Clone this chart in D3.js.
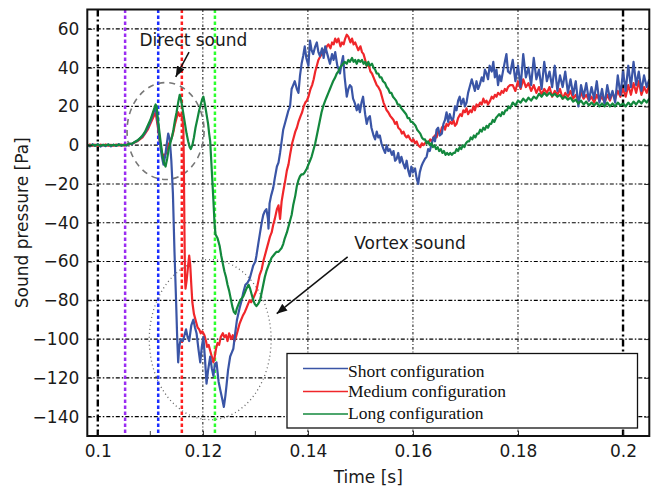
<!DOCTYPE html>
<html lang="en">
<head>
<meta charset="utf-8">
<title>sound pressure</title>
<script src="https://d3js.org/d3.v7.js"></script>
<style type="text/css">
	body { margin: 0; background: #ffffff; }
	.ax text { font-family: "DejaVu Sans", sans-serif; fill: #1a1a1a; }
</style>
</head>
<body>
<div id="chart"></div>
<script>
// x ticks / y ticks
const xTicks = [0.1, 0.12, 0.14, 0.16, 0.18, 0.2];
const xMinorTicks = [0.11, 0.13];
const yTicks = [-140, -120, -100, -80, -60, -40, -20, 0, 20, 40, 60];
const seriesNames = ["Short configuration", "Medium configuration", "Long configuration"];

// event markers (vertical lines), time in s
const blackMarks = [0.1, 0.2];
const colorMarks = [0.1052, 0.1115, 0.1160, 0.1223];

// [time s, pressure Pa]
const shortData = [
[0.0980,0.3],[0.0985,-0.6],[0.0990,0.5],[0.0995,-0.4],[0.1000,0.6],[0.1005,-0.7],[0.1010,0.2],[0.1015,-0.5],[0.1020,0.4],[0.1025,-0.6],[0.1030,0.3],[0.1035,-0.4],[0.1040,0.5],[0.1045,-0.3],[0.1050,0.2],[0.1055,-0.2],[0.1060,0.8],[0.1065,0.6],[0.1070,1.6],[0.1075,2.2],[0.1080,3.5],[0.1085,4.5],[0.1090,6.5],[0.1095,9],[0.1100,12],[0.1105,16],[0.1110,20],
[0.1114,12],[0.1118,2],[0.1122,-6],[0.1125,-10],[0.1128,-6],[0.1131,0],[0.1134,6],[0.1137,3],[0.1140,-8],[0.1143,-25],[0.1146,-55],[0.1149,-80],[0.1151,-98],[0.1153,-112],[0.1155,-104],[0.1158,-100],[0.1162,-101],[0.1166,-97],[0.1168,-95],[0.1171,-99],[0.1174,-101],[0.1178,-93],[0.1182,-90],[0.1185,-94],[0.1188,-97],[0.1192,-106],[0.1195,-112],[0.1198,-104],[0.1201,-99],[0.1204,-110],[0.1207,-123],[0.1210,-116],[0.1214,-109],[0.1217,-115],[0.1220,-119],[0.1223,-113],[0.1226,-112],[0.1230,-122],[0.1233,-126],[0.1237,-131],[0.1240,-135],[0.1243,-129],[0.1245,-124],[0.1248,-116],[0.1252,-109],[0.1255,-107],[0.1258,-105],[0.1262,-96],[0.1265,-90],[0.1270,-84],[0.1274,-80],[0.1277,-76],[0.1281,-72],[0.1285,-71],[0.1289,-69],[0.1293,-65],[0.1296,-62],[0.1300,-60],[0.1302,-57],[0.1306,-50],[0.1309,-45],[0.1312,-40],[0.1315,-36],[0.1318,-34],[0.1321,-33],[0.1324,-38],[0.1325,-43],[0.1327,-30],[0.1330,-26],[0.1334,-22],[0.1337,-17],[0.1341,-11],[0.1344,-9],[0.1347,-4],[0.1350,2],[0.1353,8],[0.1357,12],[0.1360,15],[0.1363,18],[0.1366,20],[0.1369,29],[0.1372,31],[0.1375,33],[0.1379,29],[0.1382,27],[0.1385,36],[0.1388,42],[0.1391,46],[0.1394,51],[0.1397,45],[0.1401,41],[0.1404,54],[0.1407,49],[0.1410,47],[0.1414,51],[0.1417,53],[0.1420,48],[0.1423,46],[0.1427,50],[0.1430,45],[0.1433,51],[0.1437,47],[0.1440,44],[0.1442,42],[0.1446,47],[0.1449,44],[0.1452,48],[0.1456,41],[0.1459,39],[0.1461,37],[0.1464,42],[0.1467,46],[0.1470,35],[0.1474,25],[0.1477,29],[0.1480,31],[0.1483,30],[0.1486,24],[0.1489,22],[0.1493,18],[0.1496,21],[0.1499,17],[0.1502,22],[0.1505,25],[0.1509,16],[0.1512,11],[0.1515,14],[0.1518,15],[0.1521,9],[0.1525,5],[0.1528,3],[0.1531,7],[0.1534,4],[0.1537,5],[0.1540,1],[0.1544,-2],[0.1547,-4],[0.1550,0],[0.1553,-3],[0.1556,-2],[0.1560,-5],[0.1563,-3],[0.1566,-8],[0.1569,-7],[0.1572,-4],[0.1575,-9],[0.1578,-6],[0.1581,-9],[0.1585,-12],[0.1588,-8],[0.1591,-13],[0.1594,-16],[0.1597,-11],[0.1600,-14],[0.1604,-12],[0.1607,-17],[0.1610,-20],[0.1613,-14],[0.1616,-11],[0.1619,-9],[0.1623,-7],[0.1626,-6],[0.1629,-2],[0.1632,-3],[0.1636,1],[0.1639,4],[0.1642,2],[0.1645,8],[0.1648,9],[0.1651,5],[0.1655,6],[0.1658,11],[0.1661,13],[0.1664,17],[0.1667,12],[0.1670,16],[0.1674,13],[0.1677,14],[0.1680,20],[0.1683,18],[0.1686,23],[0.1689,25],[0.1692,21],[0.1696,24],[0.1699,20],[0.1702,22],[0.1705,27],[0.1708,30],[0.1712,34],[0.1715,31],[0.1718,28],[0.1721,33],[0.1724,29],[0.1727,31],[0.1731,35],[0.1734,33],[0.1737,39],[0.1740,37],[0.1743,34],[0.1746,41],[0.1750,38],[0.1753,43],[0.1756,35],[0.1759,39],[0.1762,31],[0.1765,36],[0.1768,33],[0.1772,39],[0.1775,43],[0.1778,47],[0.1781,38],[0.1785,37],
[0.1790,44],[0.1795,33],[0.1800,41],[0.1805,30],[0.1810,47],[0.1815,35],[0.1820,40],[0.1825,31],[0.1830,45],[0.1835,34],[0.1840,39],[0.1845,29],[0.1850,43],[0.1855,33],[0.1860,38],[0.1865,30],[0.1870,41],[0.1875,28],[0.1880,36],[0.1885,30],[0.1890,38],[0.1895,27],[0.1900,34],[0.1905,26],[0.1910,33],[0.1915,20],[0.1920,31],[0.1925,25],[0.1930,32],[0.1935,23],[0.1940,30],[0.1945,24],[0.1950,33],[0.1955,22],[0.1960,29],[0.1965,21],[0.1970,31],[0.1975,24],[0.1980,28],[0.1985,22],[0.1990,36],[0.1995,26],[0.2000,38],[0.2005,28],[0.2010,41],[0.2015,30],[0.2020,43],[0.2025,31],[0.2030,38],[0.2035,28],[0.2040,36],[0.2045,30],[0.2050,34]
];

const mediumData = [
[0.0980,-0.2],[0.0985,0.4],[0.0990,-0.3],[0.0995,0.3],[0.1000,-0.4],[0.1005,0.3],[0.1010,-0.2],[0.1015,0.4],[0.1020,-0.3],[0.1025,0.2],[0.1030,-0.3],[0.1035,0.3],[0.1040,-0.2],[0.1045,0.3],[0.1050,-0.2],[0.1055,0.2],[0.1060,0.6],[0.1065,0.7],[0.1070,1.4],[0.1075,2],[0.1080,3],[0.1085,4],[0.1090,6],[0.1095,8],[0.1100,11],[0.1105,14],[0.1110,17],[0.1114,10],[0.1118,2],[0.1122,-4],[0.1126,-6],[0.1130,-4],[0.1134,0],[0.1138,2],[0.1141,4],[0.1144,7],[0.1147,11],[0.1150,14],[0.1153,17],[0.1156,15],[0.1159,16],[0.1161,14],[0.1163,8],[0.1164,-15],[0.1165,-45],[0.1166,-68],[0.1167,-74],[0.1169,-70],[0.1172,-62],[0.1174,-57],[0.1176,-62],[0.1178,-72],[0.1180,-81],[0.1183,-87],[0.1186,-90],[0.1190,-94],[0.1193,-95],[0.1196,-97],[0.1199,-96],[0.1203,-98],[0.1206,-101],[0.1208,-104],[0.1211,-103],[0.1214,-106],[0.1217,-109],[0.1220,-112],[0.1222,-110],[0.1225,-105],[0.1228,-102],[0.1231,-103],[0.1234,-99],[0.1238,-97],[0.1241,-99],[0.1244,-98],[0.1247,-101],[0.1250,-97],[0.1254,-100],[0.1257,-98],[0.1260,-101],[0.1263,-99],[0.1267,-95],[0.1270,-92],[0.1273,-90],[0.1276,-88],[0.1280,-86],[0.1283,-84],[0.1286,-82],[0.1289,-80],[0.1292,-81],[0.1296,-79],[0.1299,-77],[0.1302,-75],[0.1305,-71],[0.1308,-67],[0.1312,-64],[0.1315,-60],[0.1318,-57],[0.1321,-54],[0.1325,-50],[0.1328,-47],[0.1331,-45],[0.1334,-41],[0.1337,-38],[0.1341,-33],[0.1344,-31],[0.1347,-38],[0.1350,-29],[0.1353,-24],[0.1357,-18],[0.1360,-13],[0.1363,-10],[0.1366,-5],[0.1370,1],[0.1373,4],[0.1376,7],[0.1379,9],[0.1382,12],[0.1386,15],[0.1389,17],[0.1392,20],[0.1395,22],[0.1398,23],[0.1401,25],[0.1405,29],[0.1408,31],[0.1411,34],[0.1414,38],[0.1417,41],[0.1420,44],[0.1424,46],[0.1427,47],[0.1430,49],[0.1433,48],[0.1436,51],[0.1439,52],[0.1443,50],[0.1446,53],[0.1449,52],[0.1452,55],[0.1455,53],[0.1458,55],[0.1462,51],[0.1465,53],[0.1468,52],[0.1471,55],[0.1474,57],[0.1477,56],[0.1481,53],[0.1484,55],[0.1487,52],[0.1490,53],[0.1493,51],[0.1496,49],[0.1500,51],[0.1503,48],[0.1506,47],[0.1509,44],[0.1512,41],[0.1515,42],[0.1519,38],[0.1522,37],[0.1525,35],[0.1528,33],[0.1531,31],[0.1534,30],[0.1538,28],[0.1541,25],[0.1544,22],[0.1547,20],[0.1550,18],[0.1553,17],[0.1557,15],[0.1560,14],[0.1563,13],[0.1566,11],[0.1569,12],[0.1572,9],[0.1576,8],[0.1579,6],[0.1582,7],[0.1585,5],[0.1588,4],[0.1591,5],[0.1595,3],[0.1598,2],[0.1601,3],[0.1604,1],[0.1607,2],[0.1610,0],[0.1614,-1],[0.1617,1],[0.1620,0],[0.1623,1],[0.1626,2],[0.1629,1],[0.1633,3],[0.1636,2],[0.1639,4],[0.1642,5],[0.1645,4],[0.1648,7],[0.1652,6],[0.1655,9],[0.1658,10],[0.1661,8],[0.1664,11],[0.1667,10],[0.1671,12],[0.1674,11],[0.1677,13],[0.1680,10],[0.1683,11],[0.1686,14],[0.1690,16],[0.1693,15],[0.1696,18],[0.1699,17],[0.1702,19],[0.1705,16],[0.1709,18],[0.1712,17],[0.1715,20],[0.1718,18],[0.1721,21],[0.1724,20],[0.1728,22],[0.1731,21],[0.1734,24],[0.1737,22],[0.1740,23],[0.1743,21],[0.1747,23],[0.1750,25],[0.1753,24],[0.1756,26],[0.1759,25],[0.1762,27],[0.1766,26],[0.1769,28],[0.1772,27],[0.1775,29],[0.1778,28],[0.1781,30],[0.1785,31],
[0.1790,31],[0.1795,28],[0.1800,33],[0.1805,29],[0.1810,34],[0.1815,30],[0.1820,32],[0.1825,28],[0.1830,31],[0.1835,27],[0.1840,30],[0.1845,26],[0.1850,29],[0.1855,27],[0.1860,30],[0.1865,25],[0.1870,28],[0.1875,26],[0.1880,29],[0.1885,24],[0.1890,27],[0.1895,25],[0.1900,28],[0.1905,24],[0.1910,26],[0.1915,23],[0.1920,27],[0.1925,24],[0.1930,26],[0.1935,23],[0.1940,25],[0.1945,22],[0.1950,26],[0.1955,23],[0.1960,25],[0.1965,22],[0.1970,26],[0.1975,23],[0.1980,27],[0.1985,24],[0.1990,28],[0.1995,25],[0.2000,29],[0.2005,25],[0.2010,31],[0.2015,26],[0.2020,32],[0.2025,27],[0.2030,33],[0.2035,26],[0.2040,30],[0.2045,27],[0.2050,31]
];

const longData = [
[0.0980,0.2],[0.0985,-0.3],[0.0990,0.2],[0.0995,-0.2],[0.1000,0.3],[0.1005,-0.3],[0.1010,0.2],[0.1015,-0.2],[0.1020,0.3],[0.1025,-0.2],[0.1030,0.2],[0.1035,-0.2],[0.1040,0.3],[0.1045,-0.1],[0.1050,0.2],[0.1055,0.1],[0.1060,0.7],[0.1065,0.8],[0.1070,1.6],[0.1075,2.4],[0.1080,3.5],[0.1085,5],[0.1090,7],[0.1095,10],[0.1100,13],[0.1105,17],[0.1110,21],[0.1112,20],[0.1115,12],[0.1119,3],[0.1123,-5],[0.1126,-9],[0.1129,-11],[0.1132,-7],[0.1135,-2],[0.1138,1],[0.1141,4],[0.1144,8],[0.1147,13],[0.1150,17],[0.1153,22],[0.1156,26],[0.1158,24],[0.1160,21],[0.1163,16],[0.1166,11],[0.1169,6],[0.1172,2],[0.1175,-1],[0.1177,-2],[0.1180,0],[0.1183,4],[0.1186,9],[0.1190,14],[0.1193,18],[0.1196,21],[0.1199,24],[0.1201,25],[0.1204,21],[0.1207,16],[0.1210,11],[0.1212,6],[0.1214,2],[0.1216,-8],[0.1218,-18],[0.1220,-28],[0.1222,-39],[0.1224,-46],[0.1226,-47],[0.1228,-48],[0.1230,-50],[0.1232,-52],[0.1235,-57],[0.1238,-61],[0.1241,-65],[0.1244,-68],[0.1247,-72],[0.1250,-75],[0.1253,-79],[0.1256,-83],[0.1259,-86],[0.1262,-87],[0.1265,-84],[0.1268,-82],[0.1271,-80],[0.1274,-79],[0.1277,-78],[0.1280,-76],[0.1283,-74],[0.1287,-72],[0.1290,-74],[0.1293,-77],[0.1296,-80],[0.1299,-82],[0.1302,-83],[0.1305,-82],[0.1309,-80],[0.1312,-76],[0.1315,-72],[0.1318,-68],[0.1321,-65],[0.1325,-62],[0.1328,-60],[0.1331,-58],[0.1334,-57],[0.1337,-56],[0.1340,-55],[0.1344,-55],[0.1347,-54],[0.1350,-53],[0.1353,-51],[0.1356,-48],[0.1360,-45],[0.1363,-42],[0.1366,-39],[0.1369,-36],[0.1372,-31],[0.1376,-26],[0.1379,-21],[0.1382,-18],[0.1385,-16],[0.1388,-15],[0.1391,-15],[0.1394,-14],[0.1398,-12],[0.1401,-10],[0.1404,-8],[0.1407,-6],[0.1410,-3],[0.1414,1],[0.1417,5],[0.1420,9],[0.1423,13],[0.1426,17],[0.1429,20],[0.1433,23],[0.1436,25],[0.1439,27],[0.1442,29],[0.1445,31],[0.1448,33],[0.1452,35],[0.1455,37],[0.1458,38],[0.1461,40],[0.1464,41],[0.1467,42],[0.1470,43],[0.1474,42],[0.1477,44],[0.1480,43],[0.1484,45],[0.1487,43],[0.1490,44],[0.1493,42],[0.1496,44],[0.1500,43],[0.1503,44],[0.1506,42],[0.1509,43],[0.1512,41],[0.1515,43],[0.1518,41],[0.1522,42],[0.1525,40],[0.1528,39],[0.1531,37],[0.1534,37],[0.1537,35],[0.1540,35],[0.1543,33],[0.1547,32],[0.1550,30],[0.1553,29],[0.1556,27],[0.1559,27],[0.1562,25],[0.1565,24],[0.1568,23],[0.1571,21],[0.1574,21],[0.1578,19],[0.1581,18],[0.1584,17],[0.1587,16],[0.1590,14],[0.1593,14],[0.1596,12],[0.1599,12],[0.1602,11],[0.1605,10],[0.1608,8],[0.1611,7],[0.1614,6],[0.1617,4],[0.1620,3],[0.1623,3],[0.1626,1],[0.1629,2],[0.1632,0],[0.1635,1],[0.1638,-1],[0.1641,0],[0.1644,-2],[0.1647,-1],[0.1650,-3],[0.1653,-2],[0.1656,-4],[0.1659,-3],[0.1662,-5],[0.1665,-4],[0.1668,-5],[0.1671,-4],[0.1674,-5],[0.1677,-4],[0.1680,-4],[0.1683,-2],[0.1686,-3],[0.1689,-1],[0.1692,-2],[0.1695,0],[0.1698,-1],[0.1701,1],[0.1704,2],[0.1707,2],[0.1710,4],[0.1713,3],[0.1716,5],[0.1719,4],[0.1722,6],[0.1725,6],[0.1728,8],[0.1731,7],[0.1734,9],[0.1737,8],[0.1740,10],[0.1743,9],[0.1746,11],[0.1749,11],[0.1752,13],[0.1755,12],[0.1758,14],[0.1761,15],[0.1764,16],[0.1767,15],[0.1770,17],[0.1773,16],[0.1776,18],[0.1779,18],[0.1782,20],[0.1785,19],
[0.1790,22],[0.1795,20.5],[0.1800,23],[0.1805,22],[0.1810,24],[0.1815,22.5],[0.1820,24.5],[0.1825,23],[0.1830,25],[0.1835,24],[0.1840,26.5],[0.1845,25],[0.1850,27],[0.1855,25.5],[0.1860,27],[0.1865,25.5],[0.1870,26.5],[0.1875,25],[0.1880,26],[0.1885,24],[0.1890,25],[0.1895,23.5],[0.1900,24.5],[0.1905,22.5],[0.1910,23.5],[0.1915,21.5],[0.1920,23],[0.1925,21],[0.1930,22.5],[0.1935,20.5],[0.1940,22],[0.1945,20.5],[0.1950,22],[0.1955,20],[0.1960,21.5],[0.1965,20],[0.1970,22],[0.1975,20],[0.1980,21.5],[0.1985,20],[0.1990,22],[0.1995,20.5],[0.2000,21.5],[0.2005,20],[0.2010,22],[0.2015,20.5],[0.2020,22.5],[0.2025,21],[0.2030,23],[0.2035,21.5],[0.2040,23.5],[0.2045,22],[0.2050,24]
];

const seriesColors = ["#3a55a6", "#f0262a", "#13883d"];
const markColors = ["#9a2cf2", "#1a2dff", "#ff1f1f", "#2cff2c"];

const W = 656, H = 489;
const margin = {top: 9.5, right: 6.7, bottom: 53, left: 87.3},
	width = W - margin.left - margin.right,
	height = H - margin.top - margin.bottom;

const svg = d3.select("#chart").append("svg")
	.attr("class", "ax")
	.attr("width", W).attr("height", H);

const g = svg.append("g").attr("transform", `translate(${margin.left},${margin.top})`);

const x = d3.scaleLinear().domain([0.098, 0.205]).range([0, width]);
const y = d3.scaleLinear().domain([-150, 70]).range([height, 0]);

g.append("clipPath").attr("id", "clip")
	.append("rect").attr("width", width).attr("height", height);

// grid
g.append("g").selectAll("line").data(yTicks).join("line")
	.attr("x1", 0).attr("x2", width)
	.attr("y1", d => y(d)).attr("y2", d => y(d))
	.attr("stroke", "#000").attr("stroke-width", 1.2)
	.attr("stroke-dasharray", "4,2,1.5,2");
g.append("g").selectAll("line").data(xTicks.filter(d => d > 0.1 && d < 0.2)).join("line")
	.attr("x1", d => x(d)).attr("x2", d => x(d))
	.attr("y1", 0).attr("y2", height)
	.attr("stroke", "#111").attr("stroke-width", 1)
	.attr("stroke-dasharray", "2.5,2,1,2");

// black dash-dot markers at 0.1 and 0.2
g.append("g").selectAll("line").data(blackMarks).join("line")
	.attr("x1", d => x(d)).attr("x2", d => x(d))
	.attr("y1", 0).attr("y2", height)
	.attr("stroke", "#000").attr("stroke-width", 2.4)
	.attr("stroke-dasharray", "7,3,2,3");

// coloured dotted markers
g.append("g").selectAll("line").data(colorMarks).join("line")
	.attr("x1", d => x(d)).attr("x2", d => x(d))
	.attr("y1", 0).attr("y2", height)
	.attr("stroke", (d, i) => markColors[i]).attr("stroke-width", 2.5)
	.attr("stroke-dasharray", "3.5,2.5");

// ellipses around direct / vortex sound
const ell = g.append("g");
ell.append("ellipse")
	.attr("cx", x(0.1129)).attr("cy", y(7.3))
	.attr("rx", x(0.1129 + 0.00733) - x(0.1129)).attr("ry", y(0) - y(25))
	.attr("fill", "none").attr("stroke", "#777").attr("stroke-width", 1.6)
	.attr("stroke-dasharray", "6,5");
ell.append("ellipse")
	.attr("cx", x(0.1214)).attr("cy", y(-100.3))
	.attr("rx", x(0.1214 + 0.0116) - x(0.1214)).attr("ry", y(0) - y(41.3))
	.attr("fill", "none").attr("stroke", "#666").attr("stroke-width", 1.3)
	.attr("stroke-dasharray", "1,3");

// series
const line = d3.line().x(d => x(d[0])).y(d => y(d[1]));
const allSeries = [mediumData, shortData, longData];
const allColors = [seriesColors[1], seriesColors[0], seriesColors[2]];
g.append("g").attr("clip-path", "url(#clip)")
	.selectAll("path").data(allSeries).join("path")
	.attr("d", line)
	.attr("fill", "none")
	.attr("stroke", (d, i) => allColors[i])
	.attr("stroke-width", 2.2)
	.attr("stroke-linejoin", "round");

// arrows
svg.append("defs").append("marker")
	.attr("id", "arrow").attr("viewBox", "0 0 10 10")
	.attr("refX", 10).attr("refY", 5)
	.attr("markerWidth", 7).attr("markerHeight", 7)
	.attr("orient", "auto")
	.append("path").attr("d", "M0,1 L10,5 L0,9 Z").attr("fill", "#111");

g.append("line")
	.attr("x1", x(0.11737)).attr("y1", y(48))
	.attr("x2", x(0.11484)).attr("y2", y(35.3))
	.attr("stroke", "#111").attr("stroke-width", 1.5)
	.attr("marker-end", "url(#arrow)");
g.append("line")
	.attr("x1", x(0.14757)).attr("y1", y(-57.6))
	.attr("x2", x(0.13406)).attr("y2", y(-86.9))
	.attr("stroke", "#111").attr("stroke-width", 1.5)
	.attr("marker-end", "url(#arrow)");

g.append("text").attr("x", x(0.10792)).attr("y", y(51.1))
	.style("font-size", "17px").text("Direct sound");
g.append("text").attr("x", x(0.14882)).attr("y", y(-53.6))
	.style("font-size", "17px").text("Vortex sound");

// legend
const leg = svg.append("g");
leg.append("rect")
	.attr("x", 287).attr("y", 353.5).attr("width", 350.5).attr("height", 74.5)
	.attr("fill", "#fff").attr("stroke", "#111").attr("stroke-width", 1.3);
const legLineY = [368.5, 391.5, 414];
const legTextY = [376.5, 396.5, 418.5];
seriesNames.forEach((name, i) => {
	leg.append("line")
		.attr("x1", 303).attr("x2", 348)
		.attr("y1", legLineY[i]).attr("y2", legLineY[i])
		.attr("stroke", seriesColors[i]).attr("stroke-width", 1.6);
	leg.append("text").attr("x", 348).attr("y", legTextY[i])
		.style("font-family", "'Liberation Serif', 'DejaVu Serif', serif")
		.style("font-size", "17.5px").style("fill", "#111")
		.text(name);
});

// axes
const xAxis = d3.axisBottom(x).tickValues(xTicks)
	.tickFormat(d => String(+d.toFixed(2)))
	.tickSize(-5).tickPadding(9);
const gx = g.append("g").attr("transform", `translate(0,${height})`).call(xAxis);
gx.selectAll("text").style("font-size", "17px").style("font-family", "'DejaVu Sans', sans-serif").attr("fill", "#1a1a1a");
gx.select(".domain").remove();
gx.selectAll("line").attr("stroke", "#222").attr("stroke-width", 1);

g.append("g").attr("transform", `translate(0,${height})`)
	.selectAll("line").data(xMinorTicks).join("line")
	.attr("x1", d => x(d)).attr("x2", d => x(d))
	.attr("y1", 0).attr("y2", -5)
	.attr("stroke", "#444").attr("stroke-width", 1);

const yAxis = d3.axisLeft(y).tickValues(yTicks).tickSize(-5).tickPadding(8);
const gy = g.append("g").call(yAxis);
gy.selectAll("text").style("font-size", "17px").style("font-family", "'DejaVu Sans', sans-serif").attr("fill", "#1a1a1a");
gy.select(".domain").remove();
gy.selectAll("line").attr("stroke", "#222");

const gr = g.append("g").attr("transform", `translate(${width},0)`)
	.call(d3.axisRight(y).tickValues(yTicks).tickSize(-5).tickFormat(""));
gr.select(".domain").remove();
gr.selectAll("line").attr("stroke", "#222");

// frame
g.append("rect").attr("width", width).attr("height", height)
	.attr("fill", "none").attr("stroke", "#111").attr("stroke-width", 2);

svg.append("text")
	.attr("x", margin.left + width / 2).attr("y", 483)
	.attr("text-anchor", "middle").style("font-size", "17px")
	.text("Time [s]");
svg.append("text")
	.attr("transform", `translate(28,${margin.top + height / 2}) rotate(-90)`)
	.attr("text-anchor", "middle").style("font-size", "17px")
	.text("Sound pressure [Pa]");
</script>
</body>
</html>
